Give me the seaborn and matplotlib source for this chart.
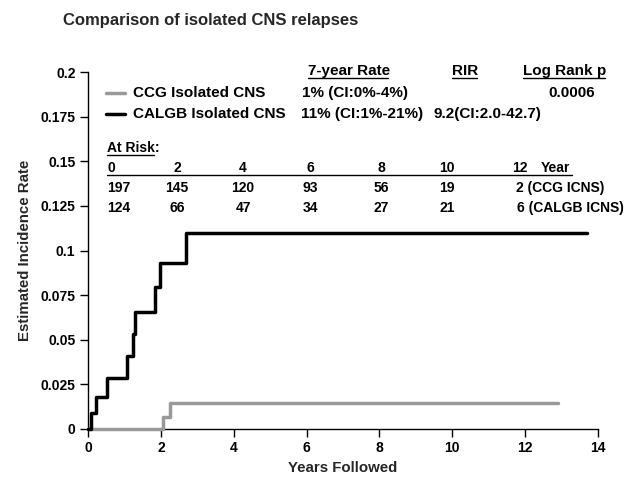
import matplotlib
matplotlib.use("Agg")
import matplotlib.pyplot as plt
import seaborn as sns
import pandas as pd

# ---- data ----
calgb_t = [0.0, 0.07, 0.22, 0.53, 1.08, 1.23, 1.28, 1.85, 1.99, 2.68, 13.7]
calgb_v = [0.0, 0.0088, 0.0181, 0.0288, 0.041, 0.053, 0.0654, 0.0794, 0.0932, 0.110, 0.110]
ccg_t = [0.0, 2.07, 2.25, 12.9]
ccg_v = [0.0, 0.0069, 0.0144, 0.0144]

series_names = ["CCG Isolated CNS", "CALGB Isolated CNS"]
rates = ["1% (CI:0%-4%)", "11% (CI:1%-21%)"]
rir = ["", "9.2(CI:2.0-42.7)"]
logrank = "0.0006"
risk_years = ["0", "2", "4", "6", "8", "10", "12"]
risk_ccg = ["197", "145", "120", "93", "56", "19", "2 (CCG ICNS)"]
risk_calgb = ["124", "66", "47", "34", "27", "21", "6 (CALGB ICNS)"]

df = pd.concat([
    pd.DataFrame({"t": ccg_t, "v": ccg_v, "grp": series_names[0]}),
    pd.DataFrame({"t": calgb_t, "v": calgb_v, "grp": series_names[1]}),
])

sns.set_theme(style="ticks")
plt.rcParams["font.family"] = ["Liberation Sans", "DejaVu Sans"]
plt.rcParams["font.weight"] = "bold"

W, H = 635, 480
fig = plt.figure(figsize=(W / 100, H / 100), dpi=100)
ax = fig.add_axes([88 / W, 1 - 429 / H, (598 - 88) / W, (429 - 72) / H])

sns.lineplot(data=df, x="t", y="v", hue="grp",
             palette={series_names[0]: "#999999", series_names[1]: "#000000"},
             drawstyle="steps-post", linewidth=2.5, legend=False, ax=ax,
             estimator=None, sort=False, zorder=3, clip_on=False)

ax.set_xlim(0, 14)
ax.set_ylim(0, 0.2)
ax.set_xticks(range(0, 15, 2))
ax.set_yticks([0, 0.025, 0.05, 0.075, 0.1, 0.125, 0.15, 0.175, 0.2])
ax.set_yticklabels(["0", "0.025", "0.05", "0.075", "0.1", "0.125", "0.15", "0.175", "0.2"])
ax.tick_params(labelsize=10, width=1.0, length=6, pad=3, colors="black")
for lab in ax.get_xticklabels() + ax.get_yticklabels():
    lab.set_fontweight("bold")
for s in ["top", "right"]:
    ax.spines[s].set_visible(False)
for s in ["left", "bottom"]:
    ax.spines[s].set_linewidth(1.0)
    ax.spines[s].set_color("black")
ax.set_xlabel("Years Followed", fontsize=10.8, fontweight="bold", labelpad=4)
ax.set_ylabel("Estimated Incidence Rate", fontsize=10.8, fontweight="bold", labelpad=6)

def fx(px):
    return px / W

def fy(py):
    return 1 - py / H

fs = 11
fs_risk = 10
def txt(x, y, s, ha="left", size=fs):
    fig.text(fx(x), fy(y), s, ha=ha, va="center", fontsize=size,
             fontweight="bold", color="black")

fig.text(fx(63), fy(20), "Comparison of isolated CNS relapses", ha="left", va="center",
         fontsize=12, fontweight="bold")

def uline(x0, x1, y):
    fig.add_artist(plt.Line2D([fx(x0), fx(x1)], [fy(y), fy(y)], color="black", lw=1.0,
                              transform=fig.transFigure))

# header
txt(308, 71, "7-year Rate")
uline(308, 388, 78)
txt(452, 71, "RIR")
uline(452, 477, 78)
txt(523, 71, "Log Rank p")
uline(523, 605, 78)

# legend rows
fig.add_artist(plt.Line2D([fx(106), fx(125)], [fy(93), fy(93)], color="#999999", lw=2.5,
                          transform=fig.transFigure))
fig.add_artist(plt.Line2D([fx(106), fx(125)], [fy(114), fy(114)], color="black", lw=2.5,
                          transform=fig.transFigure))
txt(133, 93, series_names[0])
txt(133, 114, series_names[1])
txt(302, 93, rates[0])
txt(301, 114, rates[1])
txt(433, 114, rir[1])
txt(548, 93, logrank)

# at risk
txt(107, 148, "At Risk:", size=fs_risk)
uline(107, 154, 155)
col_x = [107, 177, 243, 310, 381, 447, 512]
for i, yr in enumerate(risk_years):
    if i == 0 or i == 6:
        txt(col_x[i], 168, yr, size=fs_risk)
    else:
        txt(col_x[i], 168, yr, ha="center", size=fs_risk)
txt(541, 168, "Year", size=fs_risk)
uline(107, 572, 175)
for row, yy, off in [(risk_ccg, 188, 4), (risk_calgb, 208, 5)]:
    for i, v in enumerate(row):
        if i == 0:
            txt(col_x[i], yy, v, size=fs_risk)
        elif i == 6:
            txt(col_x[i] + off, yy, v, size=fs_risk)
        else:
            txt(col_x[i], yy, v, ha="center", size=fs_risk)

fig.savefig("out.png", dpi=100)
